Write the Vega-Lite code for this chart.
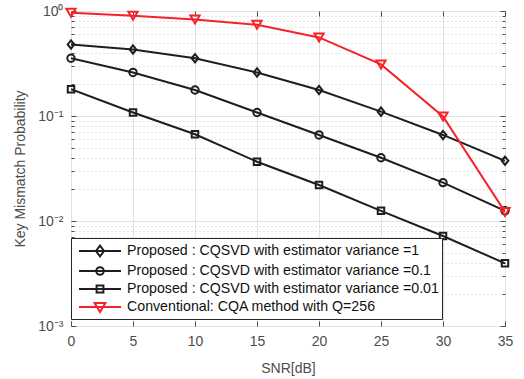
{
  "$schema": "https://vega.github.io/schema/vega-lite/v6.json",
  "width": 434,
  "height": 315,
  "autosize": "none",
  "padding": {"left": 71, "top": 11, "right": 19, "bottom": 53},
  "background": "white",
  "config": {
    "view": {"stroke": "#8a8a8a", "strokeWidth": 1},
    "font": "Liberation Sans",
    "axis": {"labelFont": "Liberation Sans", "titleFont": "Liberation Sans", "domain": false, "tickColor": "#4d4d4d"},
    "point": {"filled": false, "strokeWidth": 2, "opacity": 1}
  },
  "datasets": {
    "pts": [
      {"snr": 0, "p": 0.48, "series": "Proposed : CQSVD with estimator variance =1"},
      {"snr": 5, "p": 0.43, "series": "Proposed : CQSVD with estimator variance =1"},
      {"snr": 10, "p": 0.355, "series": "Proposed : CQSVD with estimator variance =1"},
      {"snr": 15, "p": 0.26, "series": "Proposed : CQSVD with estimator variance =1"},
      {"snr": 20, "p": 0.177, "series": "Proposed : CQSVD with estimator variance =1"},
      {"snr": 25, "p": 0.11, "series": "Proposed : CQSVD with estimator variance =1"},
      {"snr": 30, "p": 0.066, "series": "Proposed : CQSVD with estimator variance =1"},
      {"snr": 35, "p": 0.0375, "series": "Proposed : CQSVD with estimator variance =1"},
      {"snr": 0, "p": 0.355, "series": "Proposed : CQSVD with estimator variance =0.1"},
      {"snr": 5, "p": 0.26, "series": "Proposed : CQSVD with estimator variance =0.1"},
      {"snr": 10, "p": 0.177, "series": "Proposed : CQSVD with estimator variance =0.1"},
      {"snr": 15, "p": 0.108, "series": "Proposed : CQSVD with estimator variance =0.1"},
      {"snr": 20, "p": 0.066, "series": "Proposed : CQSVD with estimator variance =0.1"},
      {"snr": 25, "p": 0.04, "series": "Proposed : CQSVD with estimator variance =0.1"},
      {"snr": 30, "p": 0.0232, "series": "Proposed : CQSVD with estimator variance =0.1"},
      {"snr": 35, "p": 0.0125, "series": "Proposed : CQSVD with estimator variance =0.1"},
      {"snr": 0, "p": 0.18, "series": "Proposed : CQSVD with estimator variance =0.01"},
      {"snr": 5, "p": 0.108, "series": "Proposed : CQSVD with estimator variance =0.01"},
      {"snr": 10, "p": 0.067, "series": "Proposed : CQSVD with estimator variance =0.01"},
      {"snr": 15, "p": 0.0367, "series": "Proposed : CQSVD with estimator variance =0.01"},
      {"snr": 20, "p": 0.022, "series": "Proposed : CQSVD with estimator variance =0.01"},
      {"snr": 25, "p": 0.0125, "series": "Proposed : CQSVD with estimator variance =0.01"},
      {"snr": 30, "p": 0.0072, "series": "Proposed : CQSVD with estimator variance =0.01"},
      {"snr": 35, "p": 0.00395, "series": "Proposed : CQSVD with estimator variance =0.01"},
      {"snr": 0, "p": 0.96, "series": "Conventional: CQA method with Q=256"},
      {"snr": 5, "p": 0.9, "series": "Conventional: CQA method with Q=256"},
      {"snr": 10, "p": 0.83, "series": "Conventional: CQA method with Q=256"},
      {"snr": 15, "p": 0.74, "series": "Conventional: CQA method with Q=256"},
      {"snr": 20, "p": 0.56, "series": "Conventional: CQA method with Q=256"},
      {"snr": 25, "p": 0.31, "series": "Conventional: CQA method with Q=256"},
      {"snr": 30, "p": 0.099, "series": "Conventional: CQA method with Q=256"},
      {"snr": 35, "p": 0.0122, "series": "Conventional: CQA method with Q=256"}
    ]
  },
  "data": {"name": "pts"},
  "resolve": {"axis": {"x": "independent", "y": "independent"}},
  "layer": [
    {
      "transform": [{"filter": "datum.series !== 'Conventional: CQA method with Q=256'"}],
      "mark": {"type": "line", "strokeWidth": 2, "clip": true},
      "encoding": {
        "x": {"field": "snr", "type": "quantitative", "scale": {"domain": [0, 35], "nice": false},
          "axis": {"orient": "bottom", "values": [0, 5, 10, 15, 20, 25, 30, 35], "grid": true, "gridColor": "#e2e2e2", "zindex": 0,
            "tickSize": -5, "labelPadding": 13, "labelFontSize": 14, "labelColor": "#4d4d4d", "labelFlush": false,
            "title": "SNR[dB]", "titleFontSize": 14, "titleFontWeight": "normal", "titleColor": "#4d4d4d", "titlePadding": 13}},
        "y": {"field": "p", "type": "quantitative", "scale": {"type": "log", "domain": [0.001, 1], "nice": false},
          "axis": {"orient": "left", "values": [0.002,0.003,0.004,0.005,0.006,0.007,0.008,0.009,0.02,0.03,0.04,0.05,0.06,0.07,0.08,0.09,0.2,0.3,0.4,0.5,0.6,0.7,0.8,0.9],
            "grid": true, "gridDash": [1, 3], "gridColor": "#c8c8c8", "zindex": 0, "labels": false, "tickSize": -3, "title": null}},
        "color": {"field": "series", "type": "nominal",
          "scale": {"domain": ["Proposed : CQSVD with estimator variance =1", "Proposed : CQSVD with estimator variance =0.1", "Proposed : CQSVD with estimator variance =0.01", "Conventional: CQA method with Q=256"],
            "range": ["#1e1e1e", "#1e1e1e", "#1e1e1e", "#f5222a"]},
          "legend": {"orient": "none", "legendX": 0, "legendY": 227, "title": null, "padding": 3,
            "symbolSize": 324, "symbolOffset": 16, "labelOffset": 17, "rowPadding": -3, "symbolStrokeWidth": 2,
            "strokeColor": "#262626", "fillColor": "white", "labelFont": "Liberation Sans", "labelFontSize": 14.2, "labelColor": "#111", "labelLimit": 0,
            "encode": {"symbols": {"update": {
              "shape": {"signal": "['M-2.33,0H2.33M0,-0.6L0.45,0L0,0.6L-0.45,0Z','M-2.33,0H2.33M0.42,0A0.42,0.42 0 1,1 -0.42,0A0.42,0.42 0 1,1 0.42,0Z','M-2.33,0H2.33M-0.38,-0.38H0.38V0.38H-0.38Z','M-2.33,0H2.33M-0.6,-0.45H0.6L0,0.55Z'][datum.index]"},
              "fill": {"value": "transparent"},
              "strokeWidth": {"value": 2}}}}}}
      }
    },
    {
      "transform": [{"filter": "datum.series === 'Conventional: CQA method with Q=256'"}],
      "mark": {"type": "line", "strokeWidth": 2, "clip": true},
      "encoding": {
        "x": {"field": "snr", "type": "quantitative",
          "axis": {"orient": "top", "values": [0, 5, 10, 15, 20, 25, 30, 35], "grid": false, "labels": false, "tickSize": -5, "title": null}},
        "y": {"field": "p", "type": "quantitative",
          "axis": {"orient": "right", "values": [0.001, 0.01, 0.1, 1], "grid": false, "labels": false, "tickSize": -5, "title": null}},
        "color": {"field": "series", "type": "nominal",
          "legend": {"orient": "none", "legendX": 0, "legendY": 227, "title": null, "padding": 3,
            "symbolSize": 324, "symbolOffset": 16, "labelOffset": 17, "rowPadding": -3, "symbolStrokeWidth": 2,
            "strokeColor": "#262626", "fillColor": "white", "labelFont": "Liberation Sans", "labelFontSize": 14.2, "labelColor": "#111", "labelLimit": 0,
            "encode": {"symbols": {"update": {
              "shape": {"signal": "['M-2.33,0H2.33M0,-0.6L0.45,0L0,0.6L-0.45,0Z','M-2.33,0H2.33M0.42,0A0.42,0.42 0 1,1 -0.42,0A0.42,0.42 0 1,1 0.42,0Z','M-2.33,0H2.33M-0.38,-0.38H0.38V0.38H-0.38Z','M-2.33,0H2.33M-0.6,-0.45H0.6L0,0.55Z'][datum.index]"},
              "fill": {"value": "transparent"},
              "strokeWidth": {"value": 2}}}}}}
      }
    },
    {
      "transform": [{"filter": "datum.series === 'Proposed : CQSVD with estimator variance =1'"}],
      "mark": {"type": "point", "shape": "M0,-1L0.8,0L0,1L-0.8,0Z", "size": 70, "color": "#1e1e1e"},
      "encoding": {
        "x": {"field": "snr", "type": "quantitative", "axis": null},
        "y": {"field": "p", "type": "quantitative",
          "axis": {"orient": "left", "values": [0.001, 0.01, 0.1, 1], "grid": true, "gridColor": "#e2e2e2", "zindex": 0,
            "tickSize": -5, "labelPadding": 13, "labelFontSize": 14, "labelColor": "#4d4d4d",
            "labelExpr": "datum.value >= 1 ? '10⁰' : datum.value >= 0.1 ? '10⁻¹' : datum.value >= 0.01 ? '10⁻²' : '10⁻³'",
            "title": "Key Mismatch Probability", "titleFontSize": 14, "titleFontWeight": "normal", "titleColor": "#4d4d4d", "titlePadding": 10}}
      }
    },
    {
      "transform": [{"filter": "datum.series === 'Proposed : CQSVD with estimator variance =0.1'"}],
      "mark": {"type": "point", "shape": "circle", "size": 55, "color": "#1e1e1e"},
      "encoding": {
        "x": {"field": "snr", "type": "quantitative", "axis": null},
        "y": {"field": "p", "type": "quantitative",
          "axis": {"orient": "right", "values": [0.002,0.003,0.004,0.005,0.006,0.007,0.008,0.009,0.02,0.03,0.04,0.05,0.06,0.07,0.08,0.09,0.2,0.3,0.4,0.5,0.6,0.7,0.8,0.9],
            "grid": false, "labels": false, "tickSize": -3, "title": null}}
      }
    },
    {
      "transform": [{"filter": "datum.series === 'Proposed : CQSVD with estimator variance =0.01'"}],
      "mark": {"type": "point", "shape": "square", "size": 42, "color": "#1e1e1e"},
      "encoding": {
        "x": {"field": "snr", "type": "quantitative", "axis": null},
        "y": {"field": "p", "type": "quantitative", "axis": null}
      }
    },
    {
      "transform": [{"filter": "datum.series === 'Conventional: CQA method with Q=256'"}],
      "mark": {"type": "point", "shape": "triangle-down", "size": 85, "color": "#f5222a"},
      "encoding": {
        "x": {"field": "snr", "type": "quantitative", "axis": null},
        "y": {"field": "p", "type": "quantitative", "axis": null}
      }
    }
  ]
}
